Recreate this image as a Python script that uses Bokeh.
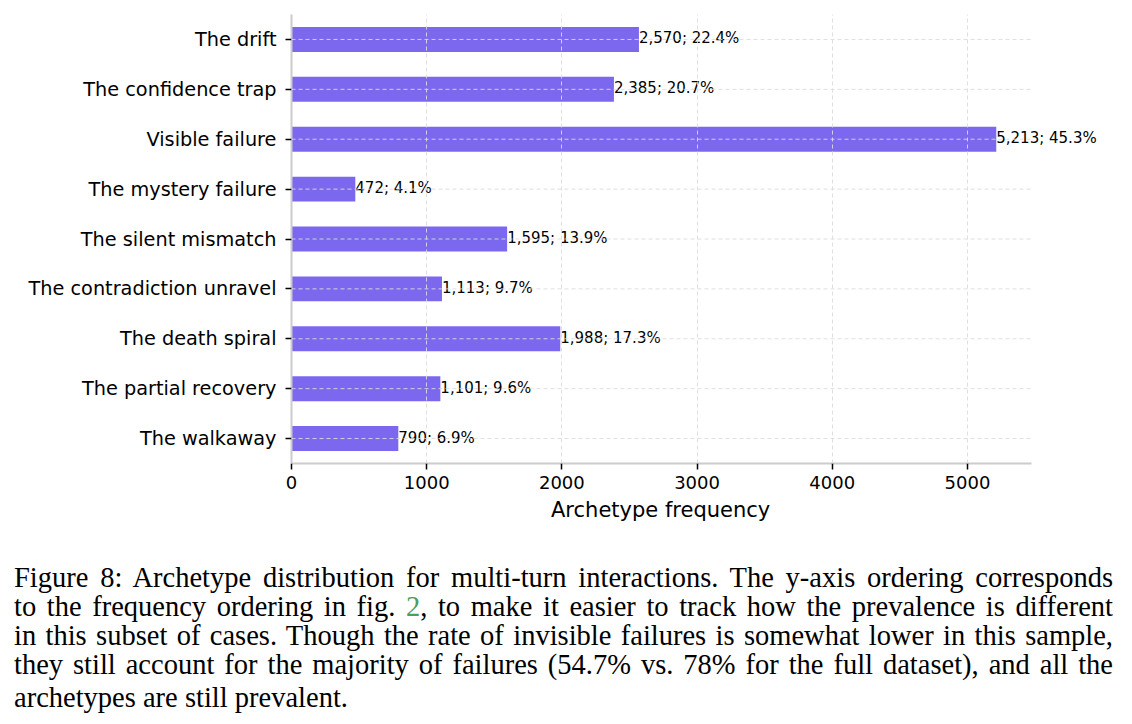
from bokeh.plotting import figure
from bokeh.layouts import column
from bokeh.models import FactorRange, Range1d, FixedTicker, Div, Title
from bokeh.embed import file_html
from bokeh.resources import INLINE
from bokeh.core.properties import value

# ---- data ----
archetypes = ["The drift", "The confidence trap", "Visible failure", "The mystery failure",
              "The silent mismatch", "The contradiction unravel", "The death spiral",
              "The partial recovery", "The walkaway"]
counts = [2570, 2385, 5213, 472, 1595, 1113, 1988, 1101, 790]
percents = [22.4, 20.7, 45.3, 4.1, 13.9, 9.7, 17.3, 9.6, 6.9]
x_ticks = [0, 1000, 2000, 3000, 4000, 5000]
x_label = "Archetype frequency"

caption_lines = [
    "Figure 8: Archetype distribution for multi-turn interactions. The y-axis ordering corresponds",
    'to the frequency ordering in fig. <span style="color:#4c9e5c">2</span>, to make it easier to track how the prevalence is different',
    "in this subset of cases. Though the rate of invisible failures is somewhat lower in this sample,",
    "they still account for the majority of failures (54.7% vs. 78% for the full dataset), and all the",
    "archetypes are still prevalent.",
]

labels = [f"{c:,}; {pc}%" for c, pc in zip(counts, percents)]

BAR = "#7B68EE"
SPINE = "#cccccc"
GRID = "#dcdcdc"
FONT = "DejaVu Sans"

W = 1120
FRAME_L, FRAME_T, FRAME_B = 291, 14, 463
AXIS_R = 1031              # where the data axis ends
MAIN_H = 540
x_end = max(counts) * 1.05
frame_w = W - FRAME_L - 4
x_view = x_end * frame_w / (AXIS_R - FRAME_L)

p = figure(width=W, height=MAIN_H, output_backend="svg", toolbar_location=None,
           y_range=FactorRange(factors=archetypes[::-1], range_padding=0),
           x_range=Range1d(0, x_view),
           min_border_left=FRAME_L, min_border_right=W - FRAME_L - frame_w,
           min_border_top=FRAME_T, min_border_bottom=MAIN_H - FRAME_B)
p.outline_line_color = None
p.background_fill_color = "white"
p.border_fill_color = "white"

p.hbar(y=archetypes, right=counts, left=0, height=0.5, color=BAR, line_color=None)

# horizontal grid lines (over the bars), limited to the axis extent
p.segment(x0=[0] * len(archetypes), x1=[x_end] * len(archetypes), y0=archetypes, y1=archetypes,
          line_color=GRID, line_dash="4 3", line_width=1, line_alpha=0.9, level="overlay")

p.text(x=counts, y=archetypes, text=labels, text_font=value(FONT), text_font_size="15px",
       text_baseline="middle", text_align="left", text_color="black", y_offset=-1)

# axes
p.xaxis.ticker = FixedTicker(ticks=x_ticks)
p.xaxis.bounds = (0, x_end)
for ax in (p.xaxis, p.yaxis):
    ax.axis_line_color = SPINE
    ax.axis_line_width = 2
    ax.major_tick_line_color = "black"
    ax.major_tick_line_width = 1.5
    ax.major_tick_out = 6
    ax.major_tick_in = 0
    ax.minor_tick_line_color = None
    ax.major_label_text_font = FONT
    ax.major_label_text_color = "black"
p.yaxis.major_label_text_font_size = "19.3px"
p.xaxis.major_label_text_font_size = "18px"
p.yaxis.major_label_standoff = 9
p.xaxis.major_label_standoff = 6

# axis title centred under the data axis (0 .. x_end), not the whole frame
label_w = 221
p.add_layout(Title(text=x_label, align="left", offset=(AXIS_R - FRAME_L) / 2 - label_w / 2,
                   text_font=FONT, text_font_size="21px", text_font_style="normal",
                   text_color="black", standoff=8), "below")

p.xgrid.grid_line_color = GRID
p.xgrid.grid_line_dash = "4 3"
p.xgrid.grid_line_width = 1
p.xgrid.grid_line_alpha = 0.9
p.xgrid.level = "overlay"
p.ygrid.grid_line_color = None

# ---- caption ----
line_divs = []
for i, line in enumerate(caption_lines):
    last = i == len(caption_lines) - 1
    align = "left" if last else "justify"
    extra = "margin-top:4px;" if last else ""
    line_divs.append(f'<div style="text-align:{align};text-align-last:{align};white-space:nowrap;{extra}">{line}</div>')
html = ('<div style="box-sizing:content-box;font-family:\'Liberation Serif\',serif;font-size:28.5px;'
        'line-height:29px;width:1099px;padding:23px 0 0 14px;color:#000;">' + "".join(line_divs) + "</div>")
cap = Div(text=html, width=W, height=180, margin=(0, 0, 0, 0))

layout = column(p, cap, spacing=0)
open("out.html", "w").write(file_html(layout, INLINE))
